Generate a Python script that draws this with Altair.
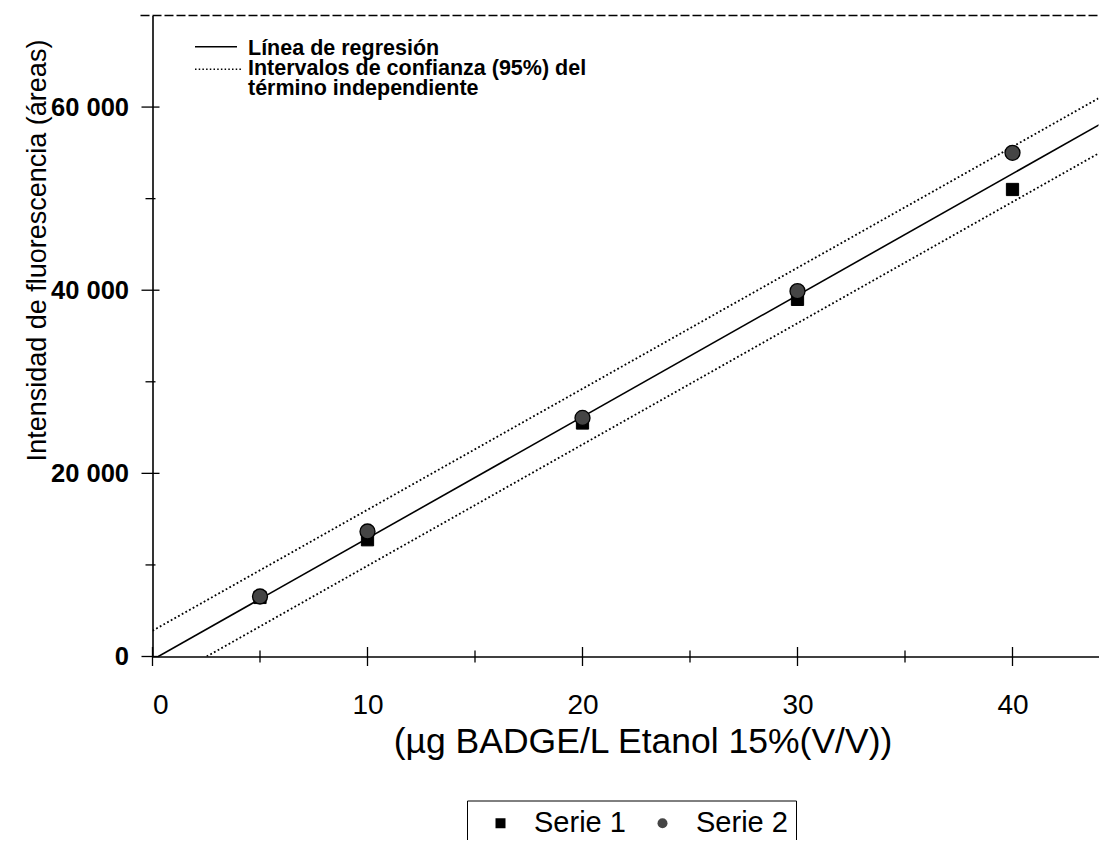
import altair as alt
import pandas as pd

# ---- data ----
conc = [5, 10, 20, 30, 40]
serie1 = [6450, 12750, 25500, 39000, 51000]
serie2 = [6550, 13650, 26050, 39900, 55000]

# regression line and 95% confidence lines (end points)
reg_x = [0.27, 44.47]
reg_y = [0, 58650]
up_x = [0.0, 44.47]
up_y = [2810, 61575]
lo_x = [2.52, 44.47]
lo_y = [0, 55560]

x_major = [0, 10, 20, 30, 40]
x_minor = [5, 15, 25, 35]
y_major = [0, 20000, 40000, 60000]
y_minor = [10000, 30000, 50000]

key_labels = ["Línea de regresión", "Intervalos de confianza (95%) del", "término independiente"]

W, H = 946, 641
X_DOM = [0, W / 21.5]
Y_DOM = [0, 70000]
FONT = "Liberation Sans"

pts1 = pd.DataFrame({"x": conc, "y": serie1, "serie": "Serie 1"})
pts2 = pd.DataFrame({"x": conc, "y": serie2, "serie": "Serie 2"})
reg = pd.DataFrame({"x": reg_x, "y": reg_y})
up = pd.DataFrame({"x": up_x, "y": up_y})
lo = pd.DataFrame({"x": lo_x, "y": lo_y})

xs = alt.Scale(domain=X_DOM, nice=False, zero=False)
ys = alt.Scale(domain=Y_DOM, nice=False, zero=False)

shape_scale = alt.Scale(domain=["Serie 1", "Serie 2"], range=["square", "circle"])
fill_scale = alt.Scale(domain=["Serie 1", "Serie 2"], range=["#000000", "#454545"])

legend = alt.Legend(
    title=None, orient="none", legendX=314.5, legendY=785, direction="horizontal",
    labelFont=FONT, labelFontSize=29, labelColor="black", symbolSize=100,
    symbolStrokeColor="black", symbolStrokeWidth=1, strokeColor="black",
    padding=8, symbolOffset=11, labelOffset=19, columnPadding=11,
)

x_axis_main = alt.Axis(
    values=x_major, ticks=False, tickSize=0, domainColor="black", domainWidth=1.6,
    labelFont=FONT, labelFontSize=28, labelColor="black", labelPadding=35,
    title="(µg BADGE/L Etanol 15%(V/V))", titleFont=FONT, titleFontSize=35.5,
    titleFontWeight="normal", titleColor="black", titleX=490, titleY=96,
    titleBaseline="alphabetic", titleAlign="center", grid=False, orient="bottom",
)
y_axis_main = alt.Axis(
    values=y_major, ticks=False, tickSize=0, domainColor="black", domainWidth=1.6,
    labelFont=FONT, labelFontSize=25.5, labelFontWeight="bold", labelColor="black",
    labelPadding=24, labelExpr="replace(format(datum.value, ','), ',', ' ')",
    title="Intensidad de fluorescencia (áreas)", titleFont=FONT, titleFontSize=27,
    titleFontWeight="normal", titleColor="black", titleX=-107.5, titleY=234.5,
    titleBaseline="alphabetic", titleAlign="center", titleAngle=270, grid=False, orient="left",
)

# crossing tick marks on both axes, placed through the scales
def xticks(vals, length):
    return alt.Chart(pd.DataFrame({"x": vals})).mark_tick(
        orient="vertical", color="black", thickness=1.3, size=length, opacity=1
    ).encode(x=alt.X("x:Q", scale=xs), y=alt.value(H))

def yticks(vals, length):
    return alt.Chart(pd.DataFrame({"y": vals})).mark_tick(
        orient="horizontal", color="black", thickness=1.3, size=length, opacity=1
    ).encode(y=alt.Y("y:Q", scale=ys), x=alt.value(-2))

reg_layer = alt.Chart(reg).mark_line(color="black", strokeWidth=1.6, clip=True).encode(
    x=alt.X("x:Q", scale=xs, axis=x_axis_main),
    y=alt.Y("y:Q", scale=ys, axis=y_axis_main),
)
up_layer = alt.Chart(up).mark_line(color="black", strokeWidth=1.8, strokeDash=[1.8, 2.4], clip=True).encode(
    x=alt.X("x:Q", scale=xs), y=alt.Y("y:Q", scale=ys),
)
lo_layer = alt.Chart(lo).mark_line(color="black", strokeWidth=1.8, strokeDash=[1.8, 2.4], clip=True).encode(
    x=alt.X("x:Q", scale=xs), y=alt.Y("y:Q", scale=ys),
)
sq_layer = alt.Chart(pts1).mark_point(filled=True, size=150, stroke="black", strokeWidth=1, opacity=1).encode(
    x=alt.X("x:Q", scale=xs), y=alt.Y("y:Q", scale=ys),
    shape=alt.Shape("serie:N", scale=shape_scale, legend=legend),
    fill=alt.Fill("serie:N", scale=fill_scale, legend=legend),
)
ci_layer = alt.Chart(pts2).mark_point(filled=True, size=225, stroke="black", strokeWidth=1.3, opacity=1).encode(
    x=alt.X("x:Q", scale=xs), y=alt.Y("y:Q", scale=ys),
    shape=alt.Shape("serie:N", scale=shape_scale, legend=legend),
    fill=alt.Fill("serie:N", scale=fill_scale, legend=legend),
)

# frame on top and the in-plot key for the lines
top_frame = alt.Chart(pd.DataFrame({"k": [0]})).mark_rule(
    color="black", strokeWidth=1.6, strokeDash=[9, 3]).encode(
    x=alt.value(-12), x2=alt.value(W), y=alt.value(0))
key_solid = alt.Chart(pd.DataFrame({"k": [0]})).mark_rule(color="black", strokeWidth=1.5).encode(
    x=alt.value(42.5), x2=alt.value(84.5), y=alt.value(31.2))
key_dot = alt.Chart(pd.DataFrame({"k": [0]})).mark_rule(
    color="black", strokeWidth=1.4, strokeDash=[1.5, 2.2]).encode(
    x=alt.value(42.5), x2=alt.value(89.5), y=alt.value(53.8))
key_txt = alt.Chart(pd.DataFrame({"t": ["\n".join(key_labels)]})).mark_text(
    font=FONT, fontSize=21.5, fontWeight="bold", align="left", baseline="alphabetic",
    color="black", lineBreak="\n", lineHeight=20,
).encode(x=alt.value(95.5), y=alt.value(39.5), text="t:N")

chart = alt.layer(
    reg_layer, up_layer, lo_layer,
    xticks(x_major, 19), xticks(x_minor, 12), yticks(y_major, 18), yticks(y_minor, 10),
    sq_layer, ci_layer, top_frame, key_solid, key_dot, key_txt,
).properties(
    width=W, height=H,
    autosize=alt.AutoSizeParams(type="none"),
    padding={"left": 144.5, "top": 7.5, "right": 0, "bottom": 183.5},
    background="white",
).configure_view(stroke=None)

chart.save("out.html", embed_options={"renderer": "svg", "actions": False})
